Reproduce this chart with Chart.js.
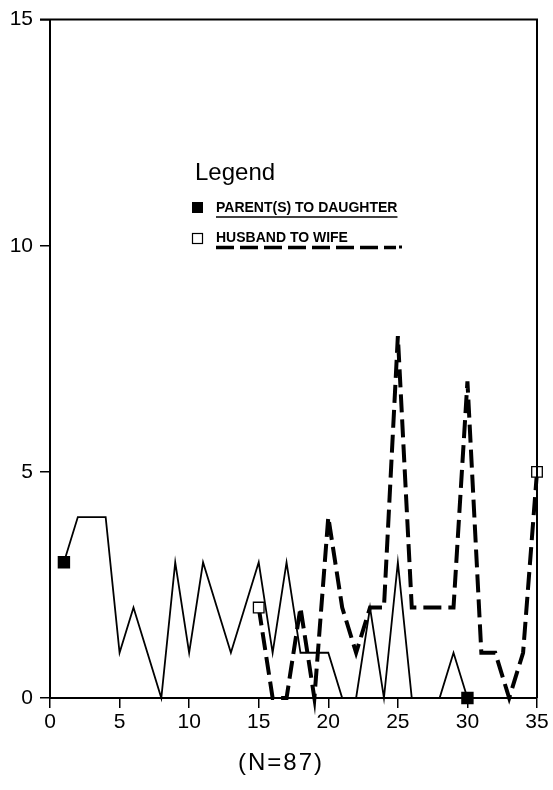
<!DOCTYPE html>
<html>
<head>
<meta charset="utf-8">
<script src="https://cdn.jsdelivr.net/npm/chart.js@4"></script>
<style>
  body { margin: 0; background: #fff; }
  canvas { display: block; }
</style>
</head>
<body>
<canvas id="myChart" width="553" height="790"></canvas>
<script>
// years and counts per series
var parentYears = [1, 2, 3, 4, 5, 6, 7, 8, 9, 10, 11, 12, 13, 14, 15, 16, 17, 18, 19, 20, 21, 22, 23, 24, 25, 26, 27, 28, 29, 30];
var parentCounts = [3, 4, 4, 4, 1, 2, 1, 0, 3, 1, 3, 2, 1, 2, 3, 1, 3, 1, 1, 1, 0, 0, 2, 0, 3, 0, 0, 0, 1, 0];

var husbandYears = [15, 16, 17, 18, 19, 20, 21, 22, 23, 24, 25, 26, 27, 28, 29, 30, 31, 32, 33, 34, 35];
var husbandCounts = [2, 0, 0, 2, 0, 4, 2, 1, 2, 2, 8, 2, 2, 2, 2, 7, 1, 1, 0, 1, 5];

var xTicks = [0, 5, 10, 15, 20, 25, 30, 35];
var yTicks = [0, 5, 10, 15];

var legendTitle = 'Legend';
var parentLabel = 'PARENT(S) TO DAUGHTER';
var husbandLabel = 'HUSBAND TO WIFE';
var footLabel = '(N=87)';

function toPoints(xs, ys) {
    return xs.map(function (x, i) { return { x: x, y: ys[i] }; });
}

// end markers only on first and last point
function endRadius(ctx) {
    var n = ctx.dataset.data.length;
    return (ctx.dataIndex === 0 || ctx.dataIndex === n - 1) ? 7.5 : 0;
}

var FONT = '"Liberation Sans", Arial, sans-serif';

// frame around plot area, legend block and the N caption
var framePlugin = {
    id: 'frame',
    afterDraw: function (chart) {
        var c = chart.ctx;
        var a = chart.chartArea;
        c.save();
        c.strokeStyle = '#000';
        c.lineWidth = 2;
        c.beginPath();
        c.moveTo(a.left - 10, a.top);
        c.lineTo(a.right, a.top);
        c.lineTo(a.right, a.bottom);
        c.stroke();

        c.fillStyle = '#000';
        c.textBaseline = 'middle';
        c.font = '24px ' + FONT;
        c.fillText(legendTitle, 195, 173);

        c.fillRect(192, 202, 11, 11);
        c.lineWidth = 1.2;
        c.strokeRect(192.5, 233.5, 10, 10);

        c.font = 'bold 14px ' + FONT;
        c.fillText(parentLabel, 216, 208);
        var w1 = c.measureText(parentLabel).width;
        c.lineWidth = 1.6;
        c.beginPath();
        c.moveTo(216, 217);
        c.lineTo(216 + w1, 217);
        c.stroke();

        c.fillText(husbandLabel, 216, 238);
        c.lineWidth = 3.5;
        c.setLineDash([18, 6]);
        c.beginPath();
        c.moveTo(216, 247.5);
        c.lineTo(396, 247.5);
        c.stroke();
        c.setLineDash([]);
        c.fillRect(399, 245.5, 3, 3);

        c.font = '24px ' + FONT;
        c.letterSpacing = '2px';
        c.textAlign = 'center';
        c.fillText(footLabel, 281, 763);
        c.restore();
    }
};

var ctx = document.getElementById('myChart').getContext('2d');

var chart = new Chart(ctx, {
    type: 'line',
    data: {
        datasets: [{
            label: parentLabel,
            data: toPoints(parentYears, parentCounts),
            borderColor: '#000',
            borderWidth: 1.8,
            backgroundColor: '#000',
            pointStyle: 'rect',
            pointRadius: endRadius,
            pointBorderColor: '#000',
            pointBackgroundColor: '#000',
            tension: 0,
            clip: false
        }, {
            label: husbandLabel,
            data: toPoints(husbandYears, husbandCounts),
            borderColor: '#000',
            borderWidth: 4,
            borderDash: [18, 7],
            pointStyle: 'rect',
            pointRadius: endRadius,
            pointBorderColor: '#000',
            pointBorderWidth: 1.3,
            pointBackgroundColor: '#fff',
            tension: 0,
            clip: false
        }]
    },
    options: {
        responsive: false,
        animation: false,
        layout: { padding: { top: 18, right: 16, bottom: 0, left: 0 } },
        plugins: {
            legend: { display: false },
            tooltip: { enabled: false }
        },
        scales: {
            x: {
                type: 'linear',
                min: 0,
                max: 35,
                afterBuildTicks: function (axis) {
                    axis.ticks = xTicks.map(function (v) { return { value: v }; });
                },
                afterFit: function (axis) { axis.height = 92; },
                border: { color: '#000', width: 2 },
                grid: { drawOnChartArea: false, color: '#000', lineWidth: 1.5, tickLength: 10 },
                ticks: { color: '#000', font: { family: FONT, size: 21 }, padding: 2, maxRotation: 0 }
            },
            y: {
                min: 0,
                max: 15,
                afterBuildTicks: function (axis) {
                    axis.ticks = yTicks.map(function (v) { return { value: v }; });
                },
                afterFit: function (axis) { axis.width = 50; },
                border: { color: '#000', width: 2 },
                grid: { drawOnChartArea: false, color: '#000', lineWidth: 1.5, tickLength: 10 },
                ticks: { color: '#000', font: { family: FONT, size: 21 }, padding: 7 }
            }
        }
    },
    plugins: [framePlugin]
});
</script>
</body>
</html>
